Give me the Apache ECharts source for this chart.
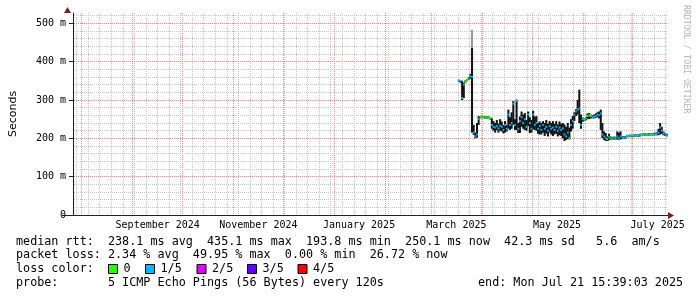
<!DOCTYPE html>
<html><head><meta charset="utf-8">
<script src="https://cdn.jsdelivr.net/npm/echarts@6/dist/echarts.min.js"></script>
<style>html,body{margin:0;padding:0;background:#fff;}#c{width:697px;height:297px;}</style>
</head><body><div id="c"></div>
<script>
// ---- axis range and labels ----
const startTime = '2024-07-26T15:39:03';
const endTime = '2025-07-21T15:39:03';
const xLabels = ['September 2024', 'November 2024', 'January 2025', 'March 2025', 'May 2025', 'July 2025'];
const xLabelDates = ['2024-09-16', '2024-11-16', '2025-01-16', '2025-03-16', '2025-05-16', '2025-07-16'];
const monthStarts = ['2024-08-01','2024-09-01','2024-10-01','2024-11-01','2024-12-01','2025-01-01','2025-02-01','2025-03-01','2025-04-01','2025-05-01','2025-06-01','2025-07-01'];
const firstMonday = '2024-07-29';
const yTicks = [0, 100, 200, 300, 400, 500];
const yTickLabels = ['0', '100 m', '200 m', '300 m', '400 m', '500 m'];
const yMax = 527;

// ---- daily data (ms) ----
const days = [
'2025-03-17','2025-03-18','2025-03-19','2025-03-20','2025-03-21','2025-03-22','2025-03-23','2025-03-24','2025-03-25','2025-03-26',
'2025-03-27','2025-03-28','2025-03-29','2025-03-30','2025-03-31','2025-04-01','2025-04-02','2025-04-03','2025-04-04','2025-04-05',
'2025-04-06','2025-04-07','2025-04-08','2025-04-09','2025-04-10','2025-04-11','2025-04-12','2025-04-13','2025-04-14','2025-04-15',
'2025-04-16','2025-04-17','2025-04-18','2025-04-19','2025-04-20','2025-04-21','2025-04-22','2025-04-23','2025-04-24','2025-04-25',
'2025-04-26','2025-04-27','2025-04-28','2025-04-29','2025-04-30','2025-05-01','2025-05-02','2025-05-03','2025-05-04','2025-05-05',
'2025-05-06','2025-05-07','2025-05-08','2025-05-09','2025-05-10','2025-05-11','2025-05-12','2025-05-13','2025-05-14','2025-05-15',
'2025-05-16','2025-05-17','2025-05-18','2025-05-19','2025-05-20','2025-05-21','2025-05-22','2025-05-23','2025-05-24','2025-05-25',
'2025-05-26','2025-05-27','2025-05-28','2025-05-29','2025-05-30','2025-05-31','2025-06-01','2025-06-02','2025-06-03','2025-06-04',
'2025-06-05','2025-06-06','2025-06-07','2025-06-08','2025-06-09','2025-06-10','2025-06-11','2025-06-12','2025-06-13','2025-06-14',
'2025-06-15','2025-06-16','2025-06-17','2025-06-18','2025-06-19','2025-06-20','2025-06-21','2025-06-22','2025-06-23','2025-06-24',
'2025-06-25','2025-06-26','2025-06-27','2025-06-28','2025-06-29','2025-06-30','2025-07-01','2025-07-02','2025-07-03','2025-07-04',
'2025-07-05','2025-07-06','2025-07-07','2025-07-08','2025-07-09','2025-07-10','2025-07-11','2025-07-12','2025-07-13','2025-07-14',
'2025-07-15','2025-07-16','2025-07-17','2025-07-18','2025-07-19','2025-07-20','2025-07-21'];
const median = [
350,350,305,340,349,352,356,362,360,215,
205,210,250,256,256,255,255,254,254,253,
235,230,228,232,226,233,230,222,235,225,
262,235,240,290,235,298,225,245,255,240,
250,230,262,240,225,262,235,240,225,232,
222,235,225,230,220,232,225,228,222,230,
220,228,222,226,210,205,215,200,235,245,
262,270,275,278,235,250,250,252,258,260,
258,255,256,258,262,260,265,210,205,200,
198,204,200,198,202,200,205,200,205,202,
201,203,206,206,207,206,207,207,208,207,
208,209,209,210,209,210,210,211,210,211,
212,215,228,220,213,210,208];
const smokeLow = [
347,345,300,305,345,349,352,355,215,209,
200,202,235,252,253,252,252,251,251,249,
225,220,215,222,215,220,218,213,215,218,
225,222,225,235,222,222,214,214,230,225,
222,220,232,214,215,223,222,220,212,210,
210,215,206,212,205,215,210,206,210,212,
205,208,206,200,193,196,198,197,218,225,
245,258,262,240,225,243,246,247,250,250,
252,252,252,253,255,252,222,201,196,193,
193,195,197,196,197,197,197,196,197,198,
198,199,203,203,204,203,204,204,205,204,
205,206,206,207,206,207,207,208,207,208,
208,208,210,212,208,206,205];
const smokeHigh = [
353,352,350,345,352,355,360,368,436,235,
215,240,258,258,259,258,258,257,257,256,
252,245,240,248,238,250,244,235,245,235,
275,255,268,297,250,301,240,257,270,262,
266,248,270,255,248,272,257,258,240,244,
240,245,240,248,238,245,240,245,238,245,
236,244,238,240,236,230,240,228,250,258,
268,276,300,327,262,254,253,255,265,266,
262,260,262,265,268,270,275,240,218,214,
205,212,205,203,205,204,218,215,218,206,
205,206,209,209,210,209,210,210,211,210,
212,212,213,213,212,214,213,214,214,215,
216,225,240,230,218,214,212];
const lossIdx = [
1,1,1,1,0,0,0,1,1,1,
1,1,1,0,0,0,1,0,0,0,
1,1,1,1,1,1,1,1,1,1,
1,1,1,1,1,1,1,1,1,1,
1,1,1,1,1,1,1,1,1,1,
1,1,1,1,1,1,1,1,1,1,
1,1,1,1,1,1,1,0,1,1,
1,1,1,1,1,1,0,1,0,0,
0,1,1,1,1,1,1,1,1,1,
0,1,0,1,0,1,1,1,1,1,
1,1,1,1,0,1,1,1,0,1,
1,0,0,1,0,1,0,1,0,1,
1,1,1,1,1,1,1];
// outlier smoke above the spike
const spikeDays = ['2025-03-25'];
const spikeTop = [483];
const spikeBase = [436];

// ---- legend ----
const lossLabels = ['0', '1/5', '2/5', '3/5', '4/5'];
const lossColors = ['#26ff00', '#00b8ff', '#dd00ff', '#5e00ff', '#ff0000'];
const legendLines = [
  'median rtt:  238.1 ms avg  435.1 ms max  193.8 ms min  250.1 ms now  42.3 ms sd   5.6  am/s',
  'packet loss: 2.34 % avg  49.95 % max  0.00 % min  26.72 % now',
  'loss color:',
  'probe:       5 ICMP Echo Pings (56 Bytes) every 120s'
];
const endText = 'end: Mon Jul 21 15:39:03 2025';
const yTitle = 'Seconds';
const watermark = 'RRDTOOL / TOBI OETIKER';

const DAY = 86400000;
const ts = s => new Date(s.length === 10 ? s + 'T00:00:00' : s).getTime();
const tMin = ts(startTime), tMax = ts(endTime);
const labelTs = xLabelDates.map(ts);

const smokeData = days.map((d, i) => [ts(d), smokeLow[i], smokeHigh[i]]);
const medData = days.map((d, i) => [ts(d), median[i], lossIdx[i]]);
const spikeData = spikeDays.map((d, i) => [ts(d), spikeBase[i], spikeTop[i]]);

const MONO = 'DejaVu Sans Mono';
const minorColor = '#c6c6c6';
const majorColor = '#e69090';

const weekTs = [];
for (let t = ts(firstMonday); t < tMax; t += 7 * DAY) weekTs.push(t);
const monthTs = monthStarts.map(ts);
const minorY = [];
for (let v = 20; v < yMax; v += 20) if (v % 100 !== 0) minorY.push(v);
const majorY = yTicks.filter(v => v > 0);

function barItem(color) {
  return function (params, api) {
    const t = api.value(0);
    const a = api.coord([t, api.value(1)]);
    const b = api.coord([t, api.value(2)]);
    const x1 = api.coord([t + DAY, api.value(1)])[0];
    return { type: 'rect', shape: { x: a[0] - 0.2, y: b[1], width: Math.max(1, x1 - a[0] + 0.4), height: Math.max(1, a[1] - b[1]) }, style: { fill: color } };
  };
}

const chart = echarts.init(document.getElementById('c'), null, { renderer: 'canvas', width: 697, height: 297 });
const option = {
  animation: false,
  backgroundColor: '#ffffff',
  grid: { left: 67, right: 30, top: 13, bottom: 82, containLabel: false },
  xAxis: {
    type: 'value', min: tMin, max: tMax,
    axisLine: { show: true, lineStyle: { color: '#1f1f1f', width: 1 } },
    axisTick: { show: false },
    splitLine: { show: false },
    axisLabel: {
      customValues: labelTs, margin: 5, color: '#000', fontFamily: MONO, fontSize: 10,
      formatter: v => { const i = labelTs.indexOf(v); return i >= 0 ? xLabels[i] : ''; },
      hideOverlap: false
    }
  },
  yAxis: {
    type: 'value', min: 0, max: yMax,
    name: yTitle, nameLocation: 'middle', nameGap: 54, nameRotate: 90,
    nameTextStyle: { fontFamily: 'DejaVu Sans', fontSize: 11, color: '#000' },
    axisLine: { show: true, lineStyle: { color: '#1f1f1f', width: 1 } },
    axisTick: { show: true, customValues: yTicks, length: 4, lineStyle: { color: '#1f1f1f' } },
    splitLine: { show: false },
    axisLabel: {
      customValues: yTicks, margin: 7, color: '#000', fontFamily: MONO, fontSize: 10,
      formatter: v => { const i = yTicks.indexOf(v); return i >= 0 ? yTickLabels[i] : ''; }
    }
  },
  series: [
    { type: 'custom', name: 'outlier', data: spikeData, z: 2, silent: true, renderItem: barItem('#999999') },
    { type: 'custom', name: 'smoke', data: smokeData, z: 3, silent: true, renderItem: barItem('#141414') },
    { type: 'custom', name: 'median', data: medData, z: 4, silent: true,
      renderItem: function (params, api) {
        const t = api.value(0);
        const p = api.coord([t, api.value(1)]);
        const x1 = api.coord([t + DAY, api.value(1)])[0];
        return { type: 'rect', shape: { x: p[0], y: p[1] - 1, width: x1 - p[0], height: 2 }, style: { fill: lossColors[api.value(2)] } };
      } }
  ]
};
chart.setOption(option);

// grid lines placed through the axis scales
const topPx = chart.convertToPixel({ yAxisIndex: 0 }, yMax);
const botPx = chart.convertToPixel({ yAxisIndex: 0 }, 0);
const leftPx = chart.convertToPixel({ xAxisIndex: 0 }, tMin);
const rightPx = chart.convertToPixel({ xAxisIndex: 0 }, tMax);
const g = [];
function vLine(t, color) {
  const x = Math.floor(chart.convertToPixel({ xAxisIndex: 0 }, t)) + 0.5;
  if (x < leftPx + 2) return;
  g.push({ type: 'line', z: -10, silent: true, shape: { x1: x, y1: topPx, x2: x, y2: botPx - 1 }, style: { stroke: color, lineWidth: 1, lineDash: [1, 1] } });
}
function hLine(v, color) {
  const y = Math.floor(chart.convertToPixel({ yAxisIndex: 0 }, v)) + 0.5;
  g.push({ type: 'line', z: -10, silent: true, shape: { x1: leftPx + 1, y1: y, x2: rightPx, y2: y }, style: { stroke: color, lineWidth: 1, lineDash: [1, 1] } });
}
weekTs.forEach(t => vLine(t, minorColor));
minorY.forEach(v => hLine(v, minorColor));
monthTs.forEach(t => vLine(t, majorColor));
majorY.forEach(v => hLine(v, majorColor));

g.push({ type: 'line', shape: { x1: 62, y1: 215.5, x2: 668, y2: 215.5 }, style: { stroke: '#1f1f1f', lineWidth: 1 }, z: 10 });
g.push({ type: 'polygon', shape: { points: [[668, 212], [674, 215.5], [668, 219]] }, style: { fill: '#801f1f' }, z: 10 });
g.push({ type: 'polygon', shape: { points: [[64, 13], [67.5, 7], [71, 13]] }, style: { fill: '#801f1f' }, z: 10 });
const lineY = [241.5, 255, 269, 282.8];
legendLines.forEach((s, i) => g.push({ type: 'text', x: 16, y: lineY[i], z: 10,
  style: { text: s, fontFamily: MONO, fontSize: 11.75, fill: '#000', verticalAlign: 'middle', align: 'left' } }));
g.push({ type: 'text', x: 478, y: lineY[3], z: 10,
  style: { text: endText, fontFamily: MONO, fontSize: 11.75, fill: '#000', verticalAlign: 'middle', align: 'left' } });
const boxX = [108, 145, 196.5, 247, 297.5];
lossLabels.forEach((l, i) => {
  g.push({ type: 'rect', shape: { x: boxX[i] + 0.5, y: 264.5, width: 9, height: 9 }, style: { fill: lossColors[i], stroke: '#000', lineWidth: 1 }, z: 10 });
  g.push({ type: 'text', x: boxX[i] + 15.5, y: lineY[2], z: 10,
    style: { text: l, fontFamily: MONO, fontSize: 11.75, fill: '#000', verticalAlign: 'middle', align: 'left' } });
});
g.push({ type: 'text', x: 686, y: 5, rotation: -Math.PI / 2, z: 10,
  style: { text: watermark, fontFamily: MONO, fontSize: 8.2, fill: '#b4b4b4', verticalAlign: 'middle', align: 'left' } });
chart.setOption({ graphic: { elements: g } });
</script>
</body></html>
